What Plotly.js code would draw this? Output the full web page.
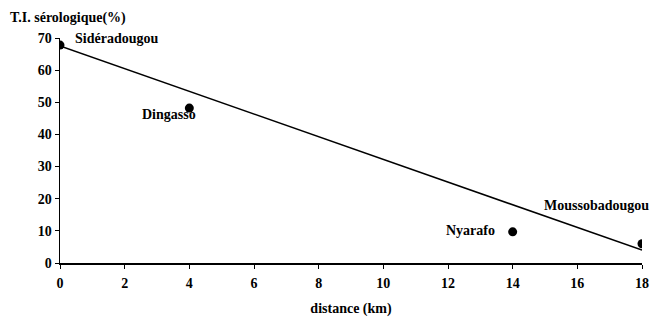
<!DOCTYPE html>
<html><head><meta charset="utf-8">
<script src="https://cdn.plot.ly/plotly-3.0.1.min.js"></script>
<style>body{margin:0}#c{width:653px;height:317px}</style>
</head><body><div id="c"></div>
<script>
const villages = ["Sidéradougou", "Dingasso", "Nyarafo", "Moussobadougou"];
const distanceKm = [0, 4, 14, 18];
const tiSero = [67.8, 48.2, 9.7, 6];
const trendX = [0, 18];
const trendY = [67.5, 4];
const xTicks = [0, 2, 4, 6, 8, 10, 12, 14, 16, 18];
const yTicks = [0, 10, 20, 30, 40, 50, 60, 70];

const labelShift = [[56, 7], [-20, -6], [-42, 1], [-46, 38]];
const F = "'Liberation Serif', 'Times New Roman', serif";

const traces = [
  {x: trendX, y: trendY, mode: "lines", line: {color: "#000", width: 1.5}, hoverinfo: "skip"},
  {x: distanceKm, y: tiSero, mode: "markers", marker: {color: "#000", size: 9}}
];
const ann = villages.map((v, i) => ({
  x: distanceKm[i], y: tiSero[i], xref: "x", yref: "y", text: "<b>" + v + "</b>",
  showarrow: false, xshift: labelShift[i][0], yshift: labelShift[i][1],
  font: {family: F, size: 14, color: "#000"}
}));
ann.push({x: 0, y: 1, xref: "paper", yref: "paper", xanchor: "left", yanchor: "bottom",
  text: "<b>T.I. sérologique(%)</b>", showarrow: false, xshift: -52, yshift: 10,
  font: {family: F, size: 14, color: "#000"}});

const layout = {
  width: 653, height: 317, showlegend: false,
  margin: {l: 60, r: 11, t: 38, b: 54},
  paper_bgcolor: "#fff", plot_bgcolor: "#fff",
  xaxis: {range: [0, 18], tickvals: xTicks, ticktext: xTicks.map(t => "<b>" + t + "</b>"),
    showgrid: false, zeroline: false, showline: true, linecolor: "#000", linewidth: 1.5,
    ticks: "outside", ticklen: 4, tickcolor: "#000", ticklabelstandoff: 3,
    tickfont: {family: F, size: 14, color: "#000"},
    title: {text: "<b>distance (km)</b>", font: {family: F, size: 14, color: "#000"}, standoff: 14}},
  yaxis: {range: [0, 70], tickvals: yTicks, ticktext: yTicks.map(t => "<b>" + t + "</b>"),
    showgrid: false, zeroline: false, showline: true, linecolor: "#000", linewidth: 1.5,
    ticks: "outside", ticklen: 4, tickcolor: "#000", tickfont: {family: F, size: 14, color: "#000"}},
  annotations: ann
};
Plotly.newPlot("c", traces, layout, {displayModeBar: false, staticPlot: true});
</script></body></html>
